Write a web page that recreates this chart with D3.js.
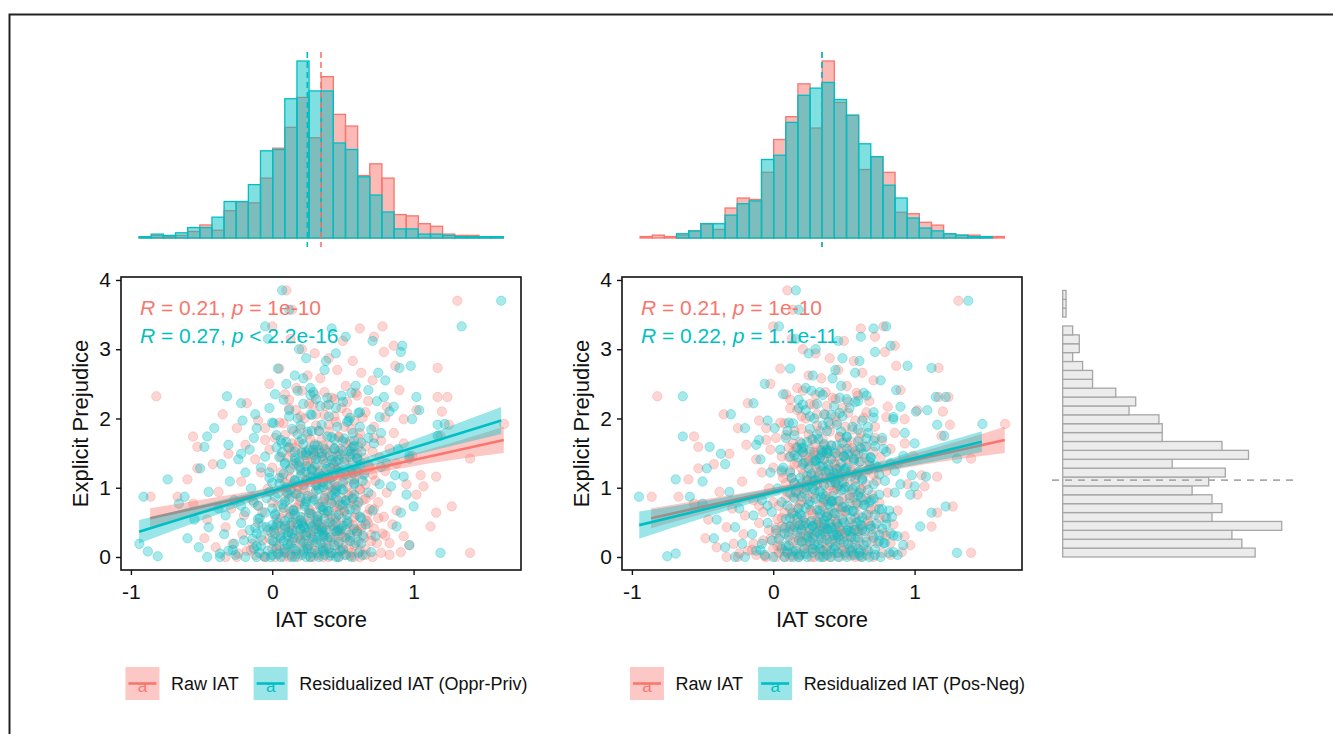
<!DOCTYPE html>
<html lang="en">
  <head>
    <meta charset="utf-8" />
    <script src="https://cdn.jsdelivr.net/npm/d3@7/dist/d3.min.js"></script>
    <title>IAT vs explicit prejudice</title>
    <style>
      body { margin: 0; background: #fff; }
      text { font-family: "Liberation Sans", Arial, sans-serif; }
    </style>
  </head>
  <body>
    <div id="container"></div>
    <script>
      // ---- data ----
      // explicit prejudice (same participants in every series)
      const prejudice = [3.85,3.70,3.57,3.33,3.33,3.30,3.18,3.15,3.12,3.05,3.00,2.96,2.94,2.87,2.83,2.76,2.73,2.72,2.70,2.66,2.62,2.58,2.55,2.50,2.47,2.44,2.41,2.38,2.35,2.32,2.31,2.31,2.33,
        2.28,2.25,2.22,2.20,2.17,2.15,2.12,2.10,2.08,2.06,2.05,
        2.03,2.01,1.99,1.97,1.95,1.93,1.92,1.91,1.90,1.88,1.86,1.84,1.82,1.81,
        1.79,1.77,1.75,1.74,1.74,1.72,1.71,1.70,1.69,1.68,
        1.66,1.65,1.64,1.63,1.62,1.61,1.60,1.59,1.58,1.57,1.56,1.56,1.55,1.54,
        1.53,1.52,1.51,1.50,1.49,1.48,1.47,1.46,1.45,1.45,1.44,1.43,1.42,1.42,1.41,
        1.40,1.38,1.36,1.35,1.34,1.33,1.31,1.30,1.29,
        1.28,1.27,1.26,1.25,1.24,1.23,1.22,1.21,1.20,1.19,1.18,1.17,1.16,
        1.15,1.14,1.13,1.12,1.11,1.10,1.09,1.08,1.07,1.06,1.05,1.04,
        1.02,1.01,0.99,0.98,0.97,0.95,0.94,0.93,0.92,0.90,
        0.89,0.87,0.87,0.86,0.85,0.84,0.83,0.82,0.81,0.80,0.79,0.77,
        0.76,0.75,0.74,0.73,0.72,0.71,0.70,0.69,0.68,0.67,0.66,0.65,0.64,
        0.63,0.62,0.61,0.60,0.59,0.58,0.57,0.56,0.55,0.54,0.53,0.52,
        0.50,0.50,0.49,0.48,0.47,0.46,0.45,0.44,0.44,0.43,0.42,0.42,0.41,0.40,0.40,0.39,0.39,0.38,
        0.37,0.36,0.35,0.34,0.33,0.32,0.31,0.30,0.30,0.29,0.28,0.27,0.27,0.26,
        0.25,0.24,0.23,0.22,0.21,0.20,0.19,0.18,0.17,0.17,0.16,0.15,0.14,0.13,
        0.12,0.11,0.10,0.09,0.08,0.07,0.06,0.06,0.05,0.04,0.03,0.02,0.01,0,0,0,0,0,
        // dense core
        0,0,0,0,0,0,0,0,0,0, 0.03,0.03,0.03,0.03,0.03,0.06,0.06,0.06,0.06,0.06, 0.09,0.09,0.09,0.09,0.09,0.12,0.12,0.12,0.12,0.12,
        0.16,0.18,0.19,0.21,0.22,0.24,0.25,0.27,0.28,0.30, 0.31,0.32,0.34,0.35,0.36,0.38,0.39,0.40,0.41,0.43,
        0.44,0.45,0.46,0.47,0.48,0.49,0.50,0.19,0.23,0.29, 0.33,0.37,0.42,0.26,0.20,0.46,0.38,0.31,0.44,0.49,
        0.52,0.54,0.55,0.57,0.58,0.60,0.61,0.63,0.64,0.66, 0.67,0.69,0.70,0.72,0.73,0.75,0.76,0.78,0.79,0.81,
        0.82,0.84,0.85,0.87,0.88,0.90,0.91,0.93,0.94,0.96, 0.97,0.99,0.56,0.62,0.68,0.74,0.80,0.86,0.92,0.98,
        1.01,1.02,1.04,1.05,1.07,1.08,1.10,1.11,1.13,1.14, 1.16,1.17,1.19,1.20,1.22,1.23,1.25,1.26,1.28,1.29,
        1.31,1.32,1.34,1.35,1.37,1.38,1.40,1.41,1.43,1.44, 1.46,1.47,1.49,1.50,1.52,1.53,1.55,1.56,1.58,1.59, 1.03,1.15,1.27,1.39,1.51,
        1.61,1.64,1.67,1.70,1.73,1.76,1.79,1.82,1.85,1.88, 1.91,1.94,1.97,2.00,2.03,2.06,2.09,2.12,2.15,2.18,
        2.21,2.24,2.27,2.30,2.34,2.37,2.40,1.72,1.86,2.02];

      const iatRaw = [0.10,1.31,0.14,0.78,0.00,0.62,0.72,0.13,0.50,0.86,0.21,0.79,0.30,0.40,0.57,0.87,1.17,0.05,0.46,0.63,0.25,0.34,0.71,-0.02,0.52,0.17,0.90,0.37,0.09,-0.82,1.24,1.17,0.60,
        0.44,0.68,-0.18,0.29,0.81,0.12,1.02,1.20,0.53,-0.35,0.37,
        0.20,0.64,0.93,-0.10,0.45,0.08,1.64,1.25,0.31,0.72,-0.25,0.56,0.15,0.40,
        0.86,0.25,1.19,-0.56,0.47,0.02,0.61,0.35,-0.05,0.77,
        0.19,0.52,0.93,0.30,-0.19,0.41,0.66,-0.53,0.11,0.56,0.26,0.83,-0.02,0.38,
        0.47,0.71,0.14,0.33,-0.31,0.58,0.22,0.99,0.43,0.06,0.76,0.28,1.40,0.51,-0.12,
        0.36,0.62,0.17,0.88,-0.42,0.44,0.26,0.69,0.00,
        -0.53,0.39,0.55,0.12,0.80,0.32,-0.08,0.48,0.21,0.64,1.05,0.29,1.16,
        0.42,0.07,0.58,-0.60,0.24,0.73,-0.22,0.35,0.50,0.15,0.95,0.31,
        1.07,0.45,-0.03,0.62,0.23,0.38,-0.38,0.81,0.18,1.02,
        0.54,-0.86,-0.67,0.28,0.09,0.66,0.40,-0.14,0.47,0.20,0.75,-0.56,
        0.33,0.58,0.04,1.27,0.44,0.17,-0.29,0.69,0.26,0.88,0.51,-0.07,1.16,
        0.37,0.13,0.60,-0.20,0.42,0.79,0.22,0.06,0.49,-0.46,0.31,0.67,
        0.26,0.54,-0.10,0.39,0.85,0.15,0.63,1.12,0.33,-0.33,0.47,0.02,0.72,0.20,0.44,0.57,-0.03,0.29,
        0.60,0.11,0.36,0.78,-0.21,0.48,0.23,0.93,0.05,0.40,0.65,-0.48,0.18,0.53,
        0.32,-0.07,0.70,0.14,0.44,0.83,-0.28,0.26,0.58,0.97,0.03,0.38,-0.40,0.50,
        0.22,0.66,-0.15,0.35,0.08,0.91,1.40,0.45,-0.24,0.17,0.83,0.55,-0.06,0.29,0.12,0.62,-0.33,0.40,
        // dense core
        -0.25,-0.05,0.08,0.18,0.27,0.36,0.47,0.58,0.71,0.02, 0.13,0.33,0.51,-0.12,0.66,0.22,0.41,0.04,0.56,0.77, 0.10,0.30,0.49,-0.18,0.62,0.16,0.38,0.54,0.00,0.28,
        0.05,0.24,0.47,0.35,0.61,0.12,0.42,0.28,0.55,0.19, 0.37,0.70,0.02,0.46,0.25,0.14,0.52,0.33,0.63,0.09,
        0.41,0.22,0.57,0.30,0.68,0.17,0.45,-0.14,0.20,0.50, 0.27,0.60,0.36,-0.02,0.74,0.13,0.48,0.80,0.06,0.34,
        0.21,0.44,0.03,0.58,0.32,0.15,0.67,0.39,0.08,0.51, 0.27,0.72,0.12,0.46,0.35,0.60,0.19,0.54,0.00,0.41,
        0.64,0.24,0.49,0.14,0.37,0.70,0.29,0.56,0.10,0.43, 0.62,0.22,0.75,0.28,0.48,-0.10,0.36,0.57,0.16,0.45,
        0.18,0.53,0.31,0.66,0.09,0.44,0.24,0.58,0.37,0.13, 0.50,0.27,0.71,0.40,0.06,0.55,0.34,0.62,0.20,0.47,
        0.30,0.68,0.15,0.43,0.57,0.25,0.52,0.36,0.65,0.11, 0.46,0.29,0.60,0.39,0.21,0.54,0.33,0.48,0.16,0.61, 0.40,0.35,0.45,0.23,0.29,
        0.36,0.14,0.55,0.27,0.47,0.09,0.62,0.33,0.20,0.51, 0.40,0.05,0.58,0.23,0.44,0.31,0.66,0.17,0.49,0.38,
        0.26,0.53,0.12,0.42,0.30,0.59,0.21,0.72,-0.05,0.80];

      const iatOppr = [0.07,1.62,0.12,1.34,-0.05,0.42,0.52,-0.03,0.71,0.92,0.19,0.91,0.45,0.24,0.38,0.98,0.90,0.04,0.37,0.75,0.16,0.22,0.80,0.10,0.59,0.27,0.68,0.29,0.02,-0.32,1.02,0.79,0.49,
        0.31,0.74,-0.22,0.40,0.86,-0.02,1.04,0.83,0.61,-0.12,0.28,
        0.12,0.55,0.99,-0.21,0.53,0.01,1.22,1.17,0.20,0.62,-0.41,0.70,0.33,0.25,
        0.77,0.18,1.17,-0.46,0.39,-0.13,0.51,0.44,0.06,0.58,
        0.10,0.63,0.72,0.22,-0.31,0.32,0.58,-0.48,0.03,0.44,0.37,0.89,-0.16,0.26,
        0.55,0.63,0.07,0.21,-0.22,0.48,0.30,0.97,0.35,-0.05,0.55,0.16,0.97,0.60,-0.24,
        0.42,0.45,0.09,0.81,-0.36,0.31,0.19,0.77,-0.08,
        -0.51,0.28,0.46,0.20,0.60,0.24,-0.19,0.57,0.08,0.52,0.87,0.35,0.93,
        0.33,-0.02,0.41,-0.74,0.16,0.64,-0.30,0.27,0.58,0.05,0.76,0.39,
        0.84,0.36,-0.15,0.49,0.13,0.45,-0.45,0.68,0.11,0.95,
        0.42,-0.91,-0.62,0.20,-0.04,0.57,0.30,-0.27,0.52,0.09,0.61,-0.66,
        0.23,0.50,-0.10,1.00,0.36,0.08,-0.38,0.55,0.15,0.71,0.40,-0.19,0.91,
        0.26,0.02,0.47,-0.33,0.32,0.62,0.12,-0.09,0.37,-0.55,0.20,0.53,
        0.14,0.41,-0.22,0.27,0.66,0.03,0.50,0.88,0.22,-0.45,0.35,-0.12,0.58,0.09,0.31,0.47,-0.16,0.17,
        0.45,-0.01,0.24,0.60,-0.34,0.36,0.11,0.73,-0.08,0.29,0.52,-0.60,0.06,0.39,
        0.20,-0.20,0.55,0.01,0.31,0.63,-0.94,0.13,0.44,0.97,-0.11,0.25,-0.52,0.36,
        0.09,0.50,-0.28,0.22,-0.88,0.70,1.19,0.32,-0.37,0.04,0.64,0.41,-0.81,0.16,-0.01,0.47,-0.46,0.27,
        // dense core
        -0.37,-0.19,-0.05,0.06,0.14,0.24,0.33,0.45,0.56,-0.11, 0.00,0.21,0.37,-0.26,0.52,0.09,0.28,-0.09,0.42,0.61, -0.03,0.17,0.36,-0.31,0.48,0.03,0.25,0.40,-0.13,0.15,
        -0.08,0.11,0.34,0.22,0.47,0.00,0.29,0.15,0.41,0.06, 0.24,0.55,-0.11,0.33,0.12,0.01,0.38,0.20,0.49,-0.04,
        0.28,0.09,0.43,0.18,0.53,0.04,0.32,-0.27,0.08,0.36, 0.14,0.46,0.23,-0.14,0.59,0.00,0.35,0.64,-0.07,0.21,
        0.09,0.32,-0.10,0.45,0.20,0.02,0.53,0.27,-0.05,0.39, 0.15,0.59,0.00,0.34,0.23,0.48,0.07,0.42,-0.13,0.29,
        0.52,0.12,0.37,0.02,0.25,0.58,0.17,0.44,-0.02,0.31, 0.50,0.10,0.63,0.16,0.36,-0.22,0.24,0.45,0.04,0.33,
        0.10,0.46,0.22,0.58,0.00,0.36,0.16,0.51,0.30,0.05, 0.43,0.20,0.65,0.33,-0.02,0.48,0.28,0.56,0.13,0.41,
        0.24,0.62,0.09,0.38,0.51,0.19,0.47,0.31,0.60,0.05, 0.41,0.24,0.56,0.35,0.16,0.50,0.29,0.44,0.12,0.57, 0.32,0.27,0.38,0.16,0.24,
        0.30,0.07,0.50,0.21,0.42,0.03,0.57,0.28,0.14,0.46, 0.35,0.00,0.54,0.18,0.40,0.27,0.62,0.12,0.45,0.34,
        0.22,0.50,0.08,0.39,0.27,0.56,0.18,0.68,-0.11,0.76];

      const iatPos = [0.16,1.38,0.18,0.80,0.04,0.71,0.62,0.16,0.46,0.83,0.30,0.72,0.25,0.49,0.61,0.95,1.12,0.12,0.44,0.58,0.28,0.42,0.76,-0.06,0.48,0.23,0.87,0.33,0.07,-0.64,1.22,1.15,0.66,
        0.52,0.60,-0.14,0.21,0.90,0.18,1.09,1.01,0.47,-0.30,0.41,
        0.26,0.71,0.85,-0.04,0.39,0.14,1.48,1.16,0.35,0.67,-0.20,0.60,0.10,0.48,
        0.93,0.31,1.21,-0.64,0.52,0.09,0.66,0.28,-0.10,0.71,
        0.24,0.49,1.00,0.36,-0.12,0.45,0.72,-0.45,0.17,0.62,0.20,0.78,0.05,0.34,
        0.40,0.80,0.21,0.38,-0.37,0.53,0.15,0.92,0.50,0.12,0.69,0.33,1.30,0.57,-0.09,
        0.30,0.68,0.22,0.83,-0.34,0.39,0.33,0.74,0.07,
        -0.47,0.45,0.50,0.06,0.86,0.37,-0.02,0.43,0.27,0.59,0.98,0.24,1.08,
        0.47,0.13,0.63,-0.69,0.30,0.79,-0.50,0.41,0.44,0.20,0.90,0.25,
        1.00,0.51,0.03,0.56,0.29,0.33,-0.31,0.86,0.12,0.97,
        0.60,-0.95,-0.59,0.34,0.15,0.71,0.36,-0.08,0.42,0.26,0.68,-0.50,
        0.39,0.64,0.10,1.22,0.49,0.23,-0.24,0.75,0.31,0.82,0.57,-0.01,1.12,
        0.43,0.19,0.66,-0.14,0.38,0.84,0.17,0.12,0.55,-0.40,0.36,0.61,
        0.32,0.59,-0.04,0.45,0.80,0.21,0.69,1.04,0.28,-0.27,0.53,0.08,0.77,0.26,0.39,0.63,0.02,0.35,
        0.55,0.17,0.42,0.83,-0.15,0.45,0.29,0.88,0.11,0.46,0.71,-0.42,0.24,0.58,
        0.38,-0.01,0.75,0.20,0.50,0.78,-0.22,0.32,0.64,0.92,0.09,0.44,-0.34,0.56,
        0.28,0.72,-0.09,0.41,0.14,0.85,1.30,0.51,-0.69,0.23,0.88,0.61,-0.75,0.35,0.18,0.68,-0.27,0.46,
        // dense core
        -0.20,0.00,0.14,0.24,0.33,0.41,0.52,0.63,0.76,0.08, 0.19,0.38,0.57,-0.06,0.72,0.28,0.46,0.10,0.61,0.82, 0.16,0.35,0.55,-0.12,0.67,0.22,0.43,0.60,0.06,0.33,
        0.11,0.29,0.53,0.40,0.66,0.18,0.47,0.34,0.60,0.25, 0.43,0.75,0.08,0.51,0.31,0.20,0.58,0.38,0.69,0.15,
        0.46,0.28,0.62,0.36,0.73,0.23,0.50,-0.08,0.26,0.55, 0.33,0.65,0.41,0.04,0.79,0.19,0.53,0.85,0.12,0.40,
        0.27,0.49,0.09,0.63,0.38,0.20,0.72,0.44,0.14,0.56, 0.33,0.77,0.18,0.51,0.40,0.65,0.25,0.59,0.06,0.46,
        0.69,0.30,0.54,0.20,0.42,0.75,0.35,0.61,0.16,0.48, 0.67,0.28,0.80,0.33,0.53,-0.04,0.41,0.62,0.22,0.50,
        0.24,0.58,0.36,0.71,0.15,0.49,0.29,0.63,0.42,0.19, 0.55,0.32,0.75,0.45,0.12,0.60,0.39,0.67,0.25,0.52,
        0.35,0.72,0.21,0.48,0.61,0.30,0.57,0.41,0.69,0.17, 0.50,0.34,0.64,0.44,0.26,0.58,0.38,0.52,0.21,0.65, 0.46,0.41,0.51,0.29,0.35,
        0.41,0.20,0.60,0.32,0.52,0.15,0.67,0.38,0.26,0.56, 0.45,0.11,0.63,0.29,0.49,0.36,0.71,0.23,0.54,0.43,
        0.31,0.58,0.18,0.47,0.35,0.64,0.27,0.77,0.01,0.85];

      // marginal histograms (30 bins over IAT range / prejudice range)
      const histStart = -0.942, histWidth = 0.0859;
      const histRaw = [1,2,1,2,5,10,6,21,28,27,46,69,85,108,77,124,95,86,48,57,46,18,17,11,9,3,2,2,1,1];
      const histOppr = [1,3,2,4,8,8,16,28,28,41,67,68,107,136,113,113,73,68,47,33,20,7,7,3,3,2,1,1,1,1];
      const histPos = [0,0,0,3,5,10,10,16,24,26,55,58,81,100,105,109,97,86,66,57,37,28,14,7,5,3,2,1,1,0];
      const prejStart = 0, prejWidth = 0.1283;
      const histPrejudice = [58,54,51,66,45,48,45,39,44,49,33,56,48,30,30,29,20,22,16,9,9,6,3,5,5,3,0,1,1,1];
      const medRaw = 0.345, medOppr = 0.248, medPos = 0.345, medPrejudice = 1.11;

      // linear fits with confidence band: [x, fit, lower, upper]
      const fitRaw = [[-0.864,0.560,0.415,0.705],[-0.45,0.747,0.649,0.845],[-0.05,0.927,0.869,0.985],[0.30,1.085,1.045,1.125],[0.70,1.266,1.200,1.332],[1.20,1.492,1.377,1.607],[1.638,1.690,1.500,1.880]];
      const fitOppr = [[-0.942,0.365,0.195,0.535],[-0.50,0.642,0.530,0.754],[-0.10,0.892,0.829,0.955],[0.25,1.112,1.072,1.152],[0.65,1.362,1.294,1.430],[1.10,1.644,1.519,1.769],[1.62,1.970,1.775,2.165]];
      const fitPos = [[-0.948,0.460,0.265,0.655],[-0.50,0.682,0.560,0.804],[-0.05,0.906,0.839,0.973],[0.34,1.100,1.060,1.140],[0.75,1.304,1.235,1.373],[1.10,1.478,1.366,1.590],[1.476,1.665,1.515,1.815]];

      const statRaw = ["0.21", "=", "1e-10"];
      const statOppr = ["0.27", "<", "2.2e-16"];
      const statPos = ["0.22", "=", "1.1e-11"];
      const legendLabels = ["Raw IAT", "Residualized IAT (Oppr-Priv)", "Residualized IAT (Pos-Neg)"];
      const xTicks = [-1, 0, 1];
      const yTicks = [0, 1, 2, 3, 4];

      // ---- drawing ----
      const width = 1333, height = 734;
      const red = "#F8766D", teal = "#00BFC4";
      const n = Math.min(prejudice.length, iatRaw.length, iatOppr.length, iatPos.length);

      const svg = d3.select("#container").append("svg").attr("width", width).attr("height", height);

      // outer frame (only top and left visible)
      svg.append("path").attr("d", "M9.5,734V14.5H1333").attr("fill", "none").attr("stroke", "#222").attr("stroke-width", 2);

      const panelW = 400, panelTop = 277, panelBottom = 570;
      const yScale = d3.scaleLinear().domain([-0.188, 4.043]).range([panelBottom, panelTop]);

      const panels = [
        { x0: 121, teal: iatOppr, hist: histOppr, fit: fitOppr, med: medOppr, stat: statOppr, label: legendLabels[1] },
        { x0: 622, teal: iatPos, hist: histPos, fit: fitPos, med: medPos, stat: statPos, label: legendLabels[2] },
      ];

      panels.forEach((p) => {
        const x = d3.scaleLinear().domain([-1.07, 1.76]).range([p.x0, p.x0 + panelW]);
        const y = yScale;
        const g = svg.append("g");
        const idx = d3.range(n);

        // points: raw first, residualized on top
        [[iatRaw, red, 0.3], [p.teal, teal, 0.34]].forEach(([xs, col, op]) => {
          g.append("g")
            .selectAll("circle")
            .data(idx)
            .join("circle")
            .attr("cx", (i) => x(xs[i]))
            .attr("cy", (i) => y(prejudice[i]))
            .attr("r", 4.7)
            .attr("fill", col)
            .attr("fill-opacity", op)
            .attr("stroke", col)
            .attr("stroke-opacity", op + 0.05)
            .attr("stroke-width", 0.8);
        });

        // smooth fits
        const band = d3.area().x((d) => x(d[0])).y0((d) => y(d[2])).y1((d) => y(d[3])).curve(d3.curveMonotoneX);
        const line = d3.line().x((d) => x(d[0])).y((d) => y(d[1]));
        [[fitRaw, red], [p.fit, teal]].forEach(([f, col]) => {
          g.append("path").datum(f).attr("d", band).attr("fill", col).attr("fill-opacity", 0.4);
          g.append("path").datum(f).attr("d", line).attr("fill", "none").attr("stroke", col).attr("stroke-width", 2.6);
        });

        // panel border
        g.append("rect").attr("x", p.x0).attr("y", panelTop).attr("width", panelW).attr("height", panelBottom - panelTop)
          .attr("fill", "none").attr("stroke", "#111").attr("stroke-width", 1.6);

        // axes
        const ax = g.append("g").attr("transform", `translate(0,${panelBottom})`)
          .call(d3.axisBottom(x).tickValues(xTicks).tickSize(5).tickPadding(9).tickFormat((d) => String(d)));
        const ay = g.append("g").attr("transform", `translate(${p.x0},0)`)
          .call(d3.axisLeft(y).tickValues(yTicks).tickSize(5).tickPadding(5).tickFormat((d) => String(d)));
        [ax, ay].forEach((a) => {
          a.select(".domain").remove();
          a.selectAll("line").attr("stroke", "#111").attr("stroke-width", 1.4);
          a.selectAll("text").attr("font-size", 21).attr("fill", "#111").attr("font-family", "Liberation Sans, Arial, sans-serif");
        });

        g.append("text").attr("x", p.x0 + panelW / 2).attr("y", 627).attr("text-anchor", "middle")
          .attr("font-size", 22).attr("fill", "#111").text("IAT score");
        g.append("text").attr("transform", `translate(${p.x0 - 33},${(panelTop + panelBottom) / 2}) rotate(-90)`)
          .attr("text-anchor", "middle").attr("font-size", 22).attr("fill", "#111").text("Explicit Prejudice");

        // correlation labels
        [[statRaw, red, 315], [p.stat, teal, 342.7]].forEach(([s, col, by]) => {
          const t = g.append("text").attr("x", p.x0 + 19).attr("y", by).attr("font-size", 21).attr("fill", col);
          t.append("tspan").attr("font-style", "italic").text("R");
          t.append("tspan").text(` = ${s[0]}, `);
          t.append("tspan").attr("font-style", "italic").text("p");
          t.append("tspan").text(` ${s[1]} ${s[2]}`);
        });

        // top marginal histogram
        const hBase = 238;
        const yh = d3.scaleLinear().domain([0, d3.max(histRaw.concat(p.hist))]).range([hBase, 61]);
        [[histRaw, red], [p.hist, teal]].forEach(([h, col]) => {
          g.append("g")
            .selectAll("rect")
            .data(h)
            .join("rect")
            .attr("x", (d, i) => x(histStart + i * histWidth))
            .attr("width", (d, i) => x(histStart + (i + 1) * histWidth) - x(histStart + i * histWidth))
            .attr("y", (d) => yh(d))
            .attr("height", (d) => hBase - yh(d))
            .attr("fill", col)
            .attr("fill-opacity", 0.5)
            .attr("stroke", col)
            .attr("stroke-width", 1.3);
        });
        [[medRaw, red], [p.med, teal]].forEach(([m, col]) => {
          g.append("line").attr("x1", x(m)).attr("x2", x(m)).attr("y1", 52).attr("y2", 247)
            .attr("stroke", col).attr("stroke-width", 1.6).attr("stroke-dasharray", "6,4");
        });

        // legend
        const leg = g.append("g");
        const keyW = 34, keyH = 33, legY = 667;
        const items = [[legendLabels[0], red], [p.label, teal]];
        let cx = 0;
        items.forEach(([lab, col]) => {
          const it = leg.append("g").attr("transform", `translate(${cx},0)`);
          it.append("rect").attr("x", 0).attr("y", legY).attr("width", keyW).attr("height", keyH)
            .attr("fill", col).attr("fill-opacity", 0.4);
          it.append("line").attr("x1", 3).attr("x2", keyW - 3).attr("y1", legY + 16.5).attr("y2", legY + 16.5)
            .attr("stroke", col).attr("stroke-width", 2.6);
          it.append("text").attr("x", keyW / 2).attr("y", legY + 25).attr("text-anchor", "middle")
            .attr("font-size", 17).attr("fill", col).text("a");
          const tx = it.append("text").attr("x", keyW + 11.5).attr("y", legY + 23).attr("font-size", 18)
            .attr("fill", "#111").text(lab);
          cx += keyW + 11.5 + tx.node().getComputedTextLength() + 15;
        });
        const legWidth = cx - 15;
        leg.attr("transform", `translate(${p.x0 + panelW / 2 + 5.5 - legWidth / 2},0)`);
      });

      // right marginal histogram of explicit prejudice
      const xr = d3.scaleLinear().domain([0, d3.max(histPrejudice)]).range([1062.7, 1281.7]);
      svg.append("g")
        .selectAll("rect")
        .data(histPrejudice)
        .join("rect")
        .attr("x", xr(0))
        .attr("width", (d) => xr(d) - xr(0))
        .attr("y", (d, i) => yScale(prejStart + (i + 1) * prejWidth))
        .attr("height", (d, i) => yScale(prejStart + i * prejWidth) - yScale(prejStart + (i + 1) * prejWidth))
        .attr("fill", "#ececec")
        .attr("stroke", "#a6a6a6")
        .attr("stroke-width", 1.3);
      svg.append("line").attr("x1", 1052).attr("x2", 1293).attr("y1", yScale(medPrejudice)).attr("y2", yScale(medPrejudice))
        .attr("stroke", "#aaa").attr("stroke-width", 1.6).attr("stroke-dasharray", "7,6");
    </script>
  </body>
</html>
